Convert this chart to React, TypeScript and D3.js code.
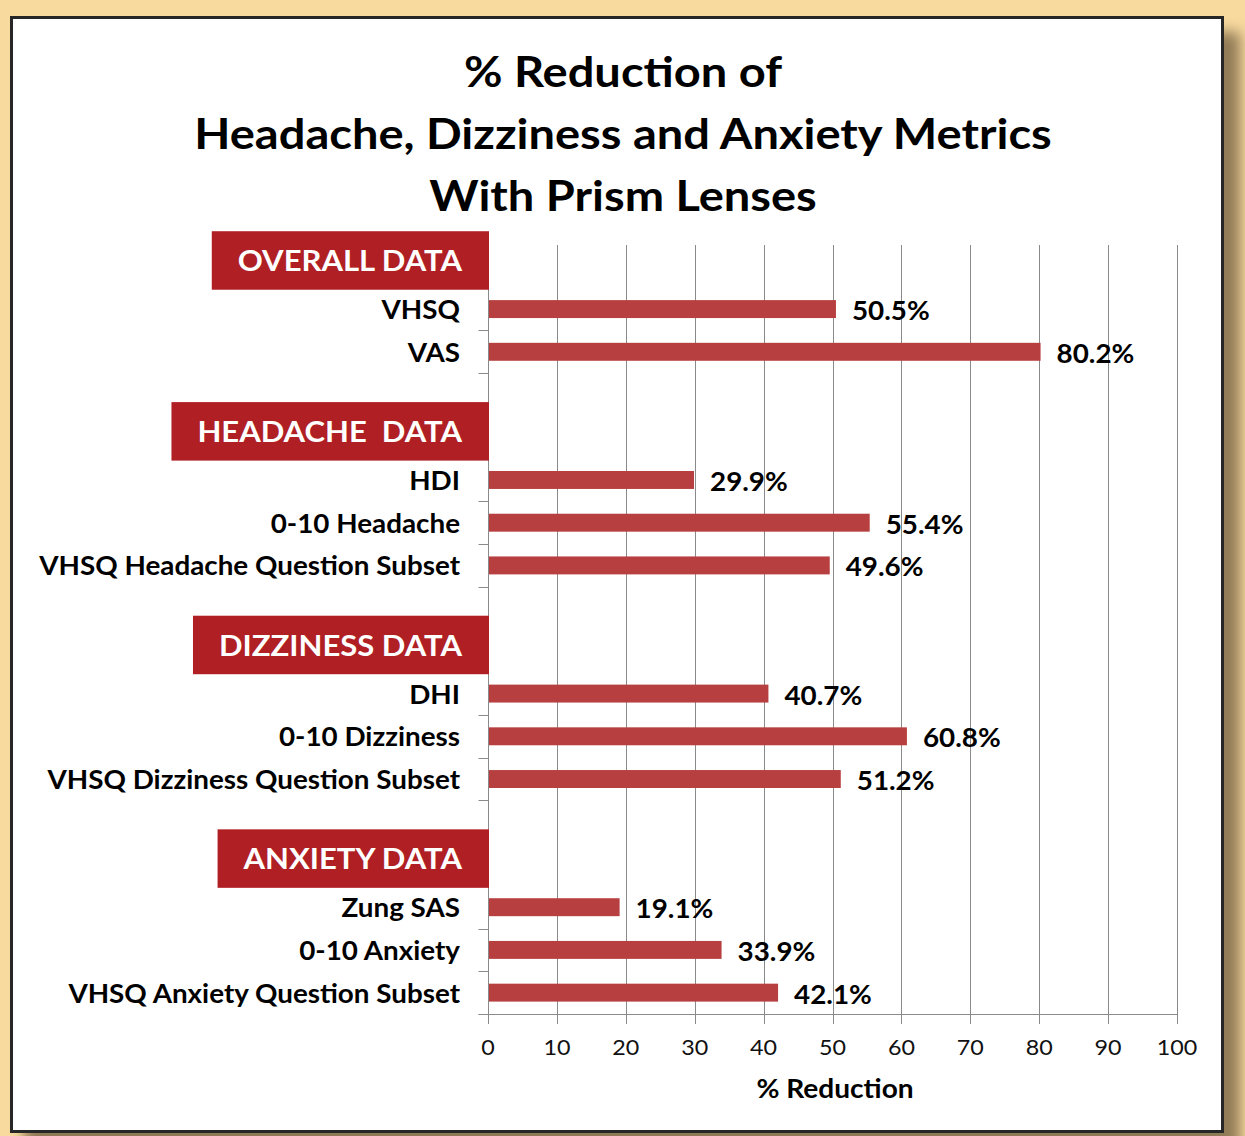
import React, { useEffect, useRef } from "react"
import * as d3 from "d3"

// section headers and their rows
const sectionTitles = ["OVERALL DATA", "HEADACHE  DATA", "DIZZINESS DATA", "ANXIETY DATA"]
const overallLabels = ["VHSQ", "VAS"]
const overallValues = [50.5, 80.2]
const headacheLabels = ["HDI", "0-10 Headache", "VHSQ Headache Question Subset"]
const headacheValues = [29.9, 55.4, 49.6]
const dizzinessLabels = ["DHI", "0-10 Dizziness", "VHSQ Dizziness Question Subset"]
const dizzinessValues = [40.7, 60.8, 51.2]
const anxietyLabels = ["Zung SAS", "0-10 Anxiety", "VHSQ Anxiety Question Subset"]
const anxietyValues = [19.1, 33.9, 42.1]
const xTicks = [0, 10, 20, 30, 40, 50, 60, 70, 80, 90, 100]
const titleLines = ["% Reduction of", "Headache, Dizziness and Anxiety Metrics", "With Prism Lenses"]
const xAxisTitle = "% Reduction"

const width = 1245
const height = 1136
const font = "Lato, 'Open Sans', sans-serif"
const stretch = 1.07 // the source text is a bit wider than Lato
const barColor = "#B83F3F"
const headerColor = "#B01F24"
const gridColor = "#8A8A8A"

const place = (x: number, y: number, k = stretch) => `translate(${x},${y}) scale(${k},1)`

export default function App() {
  const ref = useRef<SVGSVGElement>(null)

  useEffect(() => {
    const svg = d3.select(ref.current)
    svg.selectAll("*").remove()

    const sections = [
      { title: sectionTitles[0], labels: overallLabels, values: overallValues, gap: 1 },
      { title: sectionTitles[1], labels: headacheLabels, values: headacheValues, gap: 2 },
      { title: sectionTitles[2], labels: dizzinessLabels, values: dizzinessValues, gap: 2 },
      { title: sectionTitles[3], labels: anxietyLabels, values: anxietyValues, gap: 2 },
    ]
    const rows: { key: string; label: string; value: number | null }[] = []
    sections.forEach((s, i) => {
      for (let k = 0; k < s.gap; k++) rows.push({ key: `gap-${i}-${k}`, label: "", value: null })
      s.labels.forEach((l, j) => rows.push({ key: `${i}-${l}`, label: l, value: s.values[j] }))
    })
    const bars = rows.filter((r) => r.value !== null)

    const x = d3.scaleLinear().domain([0, 100]).range([488, 1177])
    const y = d3
      .scaleBand()
      .domain(rows.map((r) => r.key))
      .range([245, 1014])
      .paddingInner(0.58)
      .paddingOuter(0.29)
    const step = y.step()
    const gapHalf = (step - y.bandwidth()) / 2

    // frame
    const defs = svg.append("defs")
    const blur = defs.append("filter").attr("id", "shadow").attr("x", "-5%").attr("y", "-5%").attr("width", "110%").attr("height", "110%")
    blur.append("feGaussianBlur").attr("stdDeviation", 7)
    svg.append("rect").attr("width", width).attr("height", height).attr("fill", "#F8DA9F")
    svg
      .append("rect")
      .attr("x", 24)
      .attr("y", 32)
      .attr("width", 1216)
      .attr("height", 1120)
      .attr("fill", "#6E5A3C")
      .attr("opacity", 0.75)
      .attr("filter", "url(#shadow)")
    svg
      .append("rect")
      .attr("x", 11.5)
      .attr("y", 17.5)
      .attr("width", 1211)
      .attr("height", 1114)
      .attr("fill", "#fff")
      .attr("stroke", "#262626")
      .attr("stroke-width", 3)

    // title
    svg
      .append("g")
      .selectAll("text")
      .data(titleLines)
      .join("text")
      .attr("transform", (d, i) => place(623, 87 + i * 62, 1.12))
      .attr("text-anchor", "middle")
      .attr("font-family", font)
      .attr("font-weight", 700)
      .attr("font-size", 42)
      .attr("fill", "#000")
      .text((d) => d)

    // vertical gridlines
    svg
      .append("g")
      .selectAll("line")
      .data(xTicks.slice(1))
      .join("line")
      .attr("x1", (d) => Math.round(x(d)) + 0.5)
      .attr("x2", (d) => Math.round(x(d)) + 0.5)
      .attr("y1", 245)
      .attr("y2", 1014)
      .attr("stroke", gridColor)
      .attr("stroke-width", 1)

    // bars
    svg
      .append("g")
      .selectAll("rect")
      .data(bars)
      .join("rect")
      .attr("x", x(0) + 1)
      .attr("y", (d) => y(d.key)!)
      .attr("width", (d) => x(d.value!) - x(0) - 1)
      .attr("height", y.bandwidth())
      .attr("fill", barColor)

    // category axis
    const axisX = Math.round(x(0)) + 0.5
    svg
      .append("line")
      .attr("x1", axisX)
      .attr("x2", axisX)
      .attr("y1", 245)
      .attr("y2", 1014)
      .attr("stroke", gridColor)
    svg
      .append("g")
      .selectAll("line")
      .data(d3.range(rows.length + 1))
      .join("line")
      .attr("x1", axisX - 10)
      .attr("x2", axisX)
      .attr("y1", (i) => Math.round(245 + i * step) + 0.5)
      .attr("y2", (i) => Math.round(245 + i * step) + 0.5)
      .attr("stroke", gridColor)

    // value axis
    svg
      .append("line")
      .attr("x1", axisX - 10)
      .attr("x2", Math.round(x(100)) + 0.5)
      .attr("y1", 1014.5)
      .attr("y2", 1014.5)
      .attr("stroke", gridColor)
    svg
      .append("g")
      .selectAll("line")
      .data(xTicks)
      .join("line")
      .attr("x1", (d) => Math.round(x(d)) + 0.5)
      .attr("x2", (d) => Math.round(x(d)) + 0.5)
      .attr("y1", 1014)
      .attr("y2", 1024)
      .attr("stroke", gridColor)
    svg
      .append("g")
      .selectAll("text")
      .data(xTicks)
      .join("text")
      .attr("transform", (d) => place(x(d), 1055, 1.06))
      .attr("text-anchor", "middle")
      .attr("font-family", font)
      .attr("font-size", 22)
      .attr("fill", "#111")
      .text((d) => d)
    svg
      .append("text")
      .attr("transform", place(835, 1098, 1.08))
      .attr("text-anchor", "middle")
      .attr("font-family", font)
      .attr("font-weight", 700)
      .attr("font-size", 26)
      .attr("fill", "#000")
      .text(xAxisTitle)

    // category labels
    svg
      .append("g")
      .selectAll("text")
      .data(bars)
      .join("text")
      .attr("transform", (d) => place(460, y(d.key)! + y.bandwidth() / 2 + 10))
      .attr("text-anchor", "end")
      .attr("font-family", font)
      .attr("font-weight", 700)
      .attr("font-size", 26)
      .attr("fill", "#000")
      .text((d) => d.label)

    // value labels
    svg
      .append("g")
      .selectAll("text")
      .data(bars)
      .join("text")
      .attr("transform", (d) => place(x(d.value!) + 16, y(d.key)! + y.bandwidth() / 2 + 11))
      .attr("font-family", font)
      .attr("font-weight", 700)
      .attr("font-size", 26)
      .attr("fill", "#000")
      .text((d) => `${d3.format(".1f")(d.value!)}%`)

    // section header boxes
    const headers = svg.append("g")
    sections.forEach((s, i) => {
      const first = `${i}-${s.labels[0]}`
      const boundary = y(first)! - gapHalf
      const g = headers.append("g")
      const box = g.append("rect")
      const t = g
        .append("text")
        .attr("transform", place(462, boundary - 27 + 10.5))
        .attr("text-anchor", "end")
        .attr("font-family", font)
        .attr("font-weight", 700)
        .attr("font-size", 29)
        .attr("fill", "#fff")
        .style("white-space", "pre")
        .text(s.title)
      const w = (t.node() as SVGTextElement).getComputedTextLength() * stretch
      box
        .attr("x", 462 - w - 26)
        .attr("y", boundary - 56.5)
        .attr("width", w + 26 + 27)
        .attr("height", 58.5)
        .attr("fill", headerColor)
    })
  }, [])

  return (
    <svg
      ref={ref}
      width={width}
      height={height}
      style={{ position: "absolute", left: 0, top: 0, display: "block" }}
    />
  )
}
